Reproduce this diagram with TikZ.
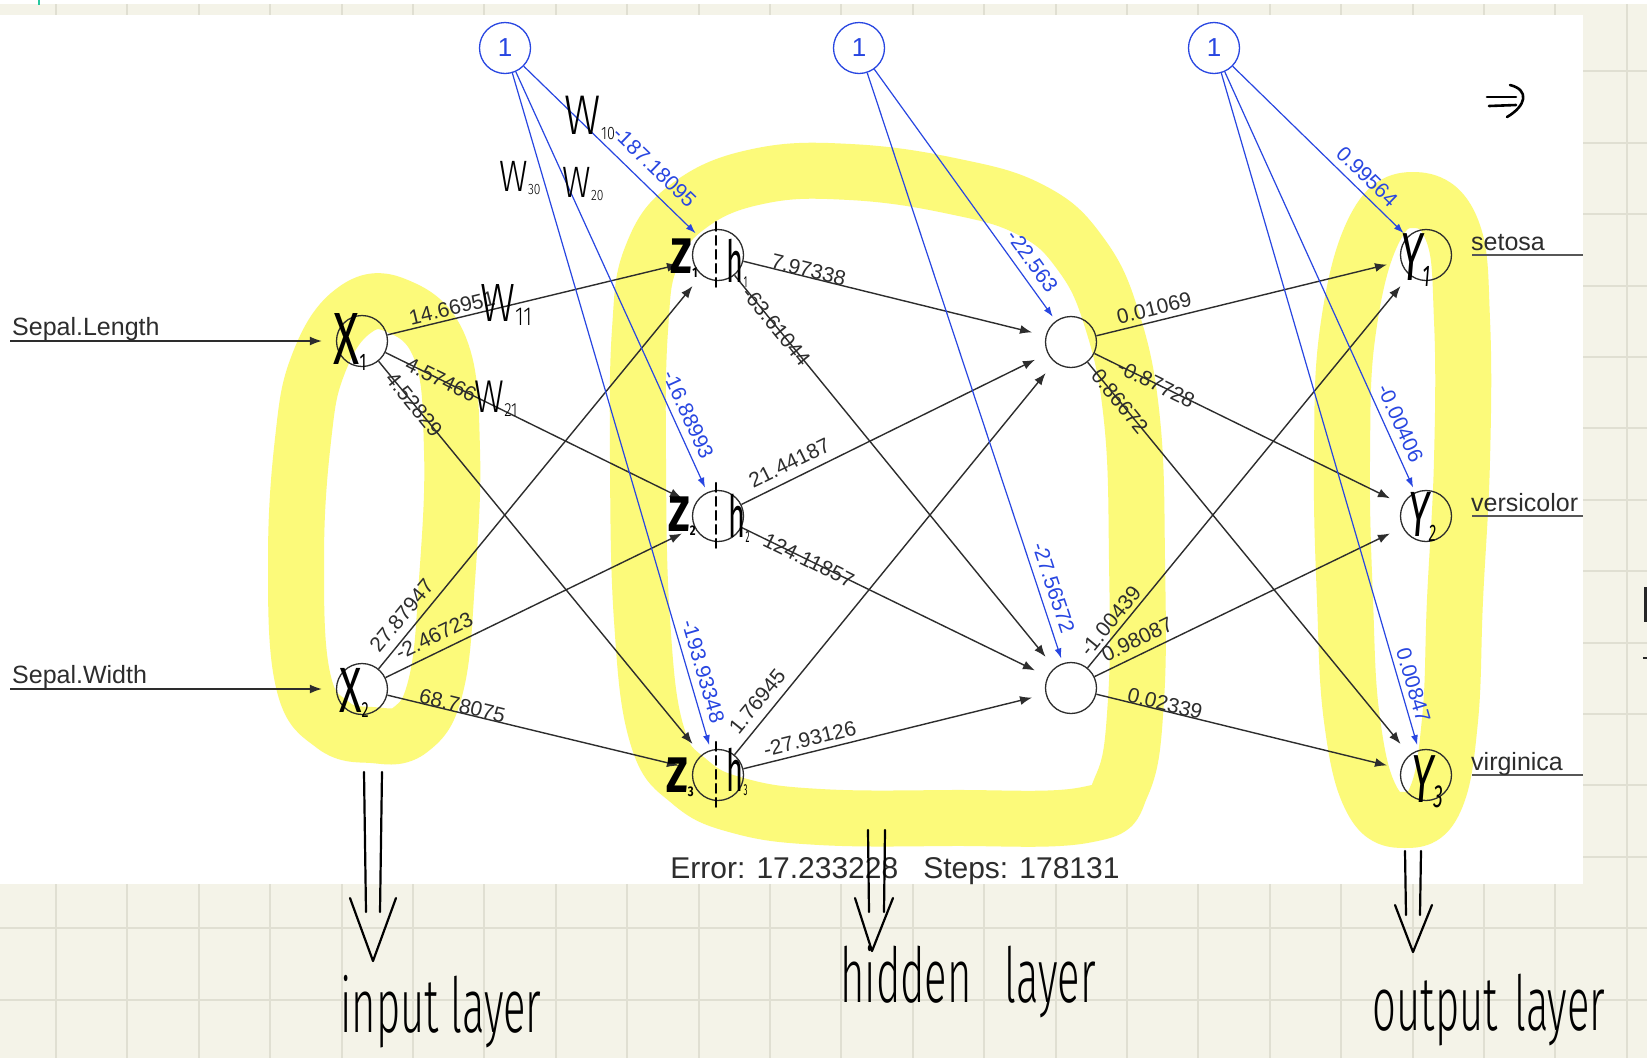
\documentclass[tikz,border=0pt]{standalone}
\usepackage{graphicx}
\usepackage{fontspec}
\setmainfont{Liberation Sans}
\newfontfamily\handfont{Fira Sans Light}
\newfontfamily\handbold{Fira Sans}
\usetikzlibrary{arrows.meta}

\definecolor{paper}{RGB}{244,243,232}
\definecolor{gridline}{RGB}{224,223,210}
\definecolor{marker}{RGB}{252,250,122}
\definecolor{biasblue}{RGB}{40,70,225}
\definecolor{wirecol}{RGB}{45,45,45}
\definecolor{tick}{RGB}{40,200,160}

% handwriting: size, horizontal squeeze, text
\newcommand\hw[3]{\scalebox{#2}[1]{\fontsize{#1}{#1}\selectfont #3}}
\newcommand\hsub[2]{\raisebox{-.08em}{\fontsize{#1}{#1}\selectfont #2}}

\tikzset{>={Latex[length=12pt,width=9pt]}}
\tikzset{
  neuron/.style={circle, draw=wirecol, line width=1.3pt, minimum size=51pt, inner sep=0pt},
  biasnode/.style={neuron, draw=biasblue, text=biasblue, font=\fontsize{26}{26}\selectfont},
  wire/.style={->, draw=wirecol, line width=1.4pt, shorten >=14pt},
  biaswire/.style={-{Latex[length=10pt,width=7pt]}, draw=biasblue, line width=1.2pt, shorten >=5pt},
  outwire/.style={draw=wirecol!80, line width=1.5pt},
  wlabel/.style={sloped, font=\fontsize{21}{21}\selectfont, text=wirecol, inner sep=2pt},
  bwlabel/.style={wlabel, text=biasblue},
  iolabel/.style={anchor=base west, font=\fontsize{25}{25}\selectfont, text=wirecol, inner sep=0pt},
  highlight/.style={draw=marker, line width=56pt, line cap=round, line join=round},
  pen/.style={draw=black, line width=2.6pt, line cap=round, line join=round},
  hand/.style={font=\handfont, text=black, inner sep=0pt}
}

\begin{document}
\begin{tikzpicture}[x=1pt, y=-1pt]
  \useasboundingbox (0,0) rectangle (1647,1058);

  % squared paper
  \fill[paper] (0,0) rectangle (1647,1058);
  \foreach \gx in {0,...,22}
    \draw[gridline, line width=2pt] ({56+71.4*\gx},0) -- ({56+71.4*\gx},1058);
  \foreach \gy in {1,...,14}
    \draw[gridline, line width=2pt] (0,{71.4*\gy}) -- (1647,{71.4*\gy});
  \fill[white] (0,0) rectangle (1647,4);
  \draw[tick, line width=2pt] (39,0) -- (39,5);

  % plot area
  \fill[white] (0,15) rectangle (1583,884);

  % highlighter
  \draw[highlight] plot[smooth cycle, tension=0.7] coordinates {
    (395,305) (440,348) (452,450) (447,580) (436,685) (410,730) (372,735)
    (333,725) (303,680) (296,560) (303,440) (318,365) (352,312)};
  \draw[highlight] plot[smooth cycle, tension=0.7] coordinates {
    (640,330) (652,255) (690,205) (760,176) (850,172) (952,186) (1031,210)
    (1080,253) (1112,320) (1132,420) (1137,560) (1136,700) (1122,785)
    (1085,815) (950,818) (820,817) (740,806) (690,782) (657,735) (642,620)
    (638,460)};
  \draw[highlight] plot[smooth cycle, tension=0.7] coordinates {
    (1415,200) (1452,230) (1462,320) (1462,460) (1455,600) (1450,720)
    (1435,800) (1405,820) (1372,800) (1352,720) (1345,600) (1342,460)
    (1348,330) (1375,228)};

  % neurons
  \node[biasnode] (b1) at (505,48) {1};
  \node[biasnode] (b2) at (859,48) {1};
  \node[biasnode] (b3) at (1214,48) {1};
  \node[neuron] (x1) at (362,341) {};
  \node[neuron] (x2) at (362,689) {};
  \node[neuron] (h1) at (718,255) {};
  \node[neuron] (h2) at (718,516) {};
  \node[neuron] (h3) at (718,775) {};
  \node[neuron] (g1) at (1071,342) {};
  \node[neuron] (g2) at (1071,688) {};
  \node[neuron] (y1) at (1426,255) {};
  \node[neuron] (y2) at (1426,516) {};
  \node[neuron] (y3) at (1426,775) {};

  % inputs
  \coordinate (sl) at (10,341);
  \coordinate (sw) at (10,689);
  \draw[wire] (sl) -- (x1);
  \draw[wire] (sw) -- (x2);
  \node[iolabel] (sllab) at (12,335) {Sepal.Length};
  \node[iolabel] (swlab) at (12,683) {Sepal.Width};

  % outputs
  \coordinate (o1) at (1583,255);
  \coordinate (o2) at (1583,516);
  \coordinate (o3) at (1583,775);
  \draw[outwire] ([xshift=20pt]y1.east) -- (o1);
  \draw[outwire] ([xshift=20pt]y2.east) -- (o2);
  \draw[outwire] ([xshift=20pt]y3.east) -- (o3);
  \node[iolabel] (olab1) at (1471,250) {setosa};
  \node[iolabel] (olab2) at (1471,511) {versicolor};
  \node[iolabel] (olab3) at (1471,770) {virginica};

  % input -> hidden
  \draw[wire] (x1) -- node[wlabel, pos=.22, above=1pt] {14.66951} (h1);
  \draw[wire] (x1) -- node[wlabel, pos=.18] {4.57466} (h2);
  \draw[wire] (x1) -- node[wlabel, pos=.11] {4.52829} (h3);
  \draw[wire] (x2) -- node[wlabel, pos=.11, above=6pt] {27.87947} (h1);
  \draw[wire] (x2) -- node[wlabel, pos=.18, above=6pt] {-2.46723} (h2);
  \draw[wire] (x2) -- node[wlabel, pos=.24, anchor=base] {68.78075} (h3);

  % hidden -> second hidden
  \draw[wire] (h1) -- node[wlabel, pos=.21, anchor=base] {7.97338} (g1);
  \draw[wire] (h1) -- node[wlabel, pos=.13] {-63.61044} (g2);
  \draw[wire] (h2) -- node[wlabel, pos=.18, above=6pt] {21.44187} (g1);
  \draw[wire] (h2) -- node[wlabel, pos=.22] {124.11857} (g2);
  \draw[wire] (h3) -- node[wlabel, pos=.11, above=6pt] {1.76945} (g1);
  \draw[wire] (h3) -- node[wlabel, pos=.23, above=3pt] {-27.93126} (g2);

  % second hidden -> output
  \draw[wire] (g1) -- node[wlabel, pos=.20, above=3pt] {0.01069} (y1);
  \draw[wire] (g1) -- node[wlabel, pos=.20] {-0.87728} (y2);
  \draw[wire] (g1) -- node[wlabel, pos=.10] {0.86672} (y3);
  \draw[wire] (g2) -- node[wlabel, pos=.10, above=2pt] {-1.00439} (y1);
  \draw[wire] (g2) -- node[wlabel, pos=.16, above=5pt] {0.98087} (y2);
  \draw[wire] (g2) -- node[wlabel, pos=.22, anchor=base] {0.02339} (y3);

  % bias weights
  \draw[biaswire] (b1) -- node[bwlabel, pos=.67, above=9pt] {-187.18095} (h1);
  \draw[biaswire] (b1) -- node[bwlabel, pos=.83, above=5pt] {-16.88993} (h2);
  \draw[biaswire] (b1) -- node[bwlabel, pos=.89, above=5pt] {-193.93348} (h3);
  \draw[biaswire] (b2) -- node[bwlabel, pos=.80, above=6pt] {-22.563} (g1);
  \draw[biaswire] (b2) -- node[bwlabel, pos=.88, above=5pt] {-27.56572} (g2);
  \draw[biaswire] (b3) -- node[bwlabel, pos=.71, above=5pt] {0.99564} (y1);
  \draw[biaswire] (b3) -- node[bwlabel, pos=.85, above=5pt] {-0.00406} (y2);
  \draw[biaswire] (b3) -- node[bwlabel, pos=.91, above=3pt] {0.00847} (y3);

  \node[anchor=base, font=\fontsize{30}{30}\selectfont, text=wirecol] (err) at (895,878)
    {Error: 17.233228\ \ \ Steps: 178131};

  % pen notes
  \node[hand] (w10) at (590,118) {\hw{56}{0.8}{W\hsub{18}{10}}};
  \node[hand] (w30) at (520,178) {\hw{44}{0.8}{W\hsub{15}{30}}};
  \node[hand] (w20) at (583,184) {\hw{44}{0.8}{W\hsub{15}{20}}};
  \node[hand] (w11) at (506,305) {\hw{54}{0.8}{W\hsub{26}{11}}};
  \node[hand] (w21) at (496,399) {\hw{46}{0.8}{W\hsub{19}{21}}};

  \node[hand] (xx1) at (350,342) {\hw{74}{0.65}{\handbold X\hsub{24}{1}}};
  \node[hand] (xx2) at (354,693) {\hw{64}{0.65}{\handbold X\hsub{22}{2}}};

  \foreach \n in {1,2,3}
    \draw[pen, line width=2.2pt, dash pattern=on 9pt off 5pt]
      ([xshift=-2pt,yshift=7pt]h\n.north) -- ([xshift=-2pt,yshift=-7pt]h\n.south);
  \node[hand] (z1) at (684,258) {\hw{50}{0.8}{\handbold\bfseries Z\hsub{14}{1}}};
  \node[hand] (z2) at (682,516) {\hw{50}{0.8}{\handbold\bfseries Z\hsub{14}{2}}};
  \node[hand] (z3) at (680,777) {\hw{50}{0.8}{\handbold\bfseries Z\hsub{14}{3}}};
  \node[hand] (hh1) at (737,263) {\hw{58}{0.5}{\handbold h\hsub{16}{1}}};
  \node[hand] (hh2) at (739,518) {\hw{58}{0.5}{\handbold h\hsub{16}{2}}};
  \node[hand] (hh3) at (737,772) {\hw{58}{0.5}{\handbold h\hsub{16}{3}}};

  \node[hand] (yy1) at (1415,260) {\hw{68}{0.6}{\handbold\itshape Y\hsub{30}{1}}};
  \node[hand] (yy2) at (1422,517) {\hw{64}{0.6}{\handbold\itshape Y\hsub{24}{2}}};
  \node[hand] (yy3) at (1427,782) {\hw{68}{0.6}{\handbold\itshape Y\hsub{32}{3}}};

  % implies mark
  \draw[pen] (1487,97) -- (1516,97);
  \draw[pen] (1489,106) -- (1516,105);
  \draw[pen] (1510,85) .. controls (1530,90) and (1526,106) .. (1507,117);

  % layer arrows
  \draw[pen, line width=2.2pt] (364,772) -- (366,912);
  \draw[pen, line width=2.2pt] (382,772) -- (380,912);
  \draw[pen, line width=2.2pt] (350,898) -- (373,961) -- (396,898);
  \draw[pen, line width=2.2pt] (868,830) -- (869,912);
  \draw[pen, line width=2.2pt] (885,830) -- (884,912);
  \draw[pen, line width=2.2pt] (855,898) -- (872,951) -- (893,898);
  \draw[pen, line width=2.2pt] (1405,851) -- (1406,915);
  \draw[pen, line width=2.2pt] (1421,851) -- (1420,915);
  \draw[pen, line width=2.2pt] (1395,905) -- (1413,952) -- (1432,905);

  \node[hand] (inlab) at (441,1012) {\hw{76}{0.55}{input layer}};
  \node[hand] (hidlab) at (968,982) {\hw{76}{0.55}{hidden\hspace{60pt}layer}};
  \node[hand] (outlab) at (1489,1010) {\hw{76}{0.55}{output\hspace{30pt}layer}};

  % cut-off strokes at the edge
  \draw[black!85, line width=3pt] (1645.5,587) -- (1645.5,622);
  \draw[black!85, line width=2pt] (1643,658) -- (1647,658);
\end{tikzpicture}
\end{document}
